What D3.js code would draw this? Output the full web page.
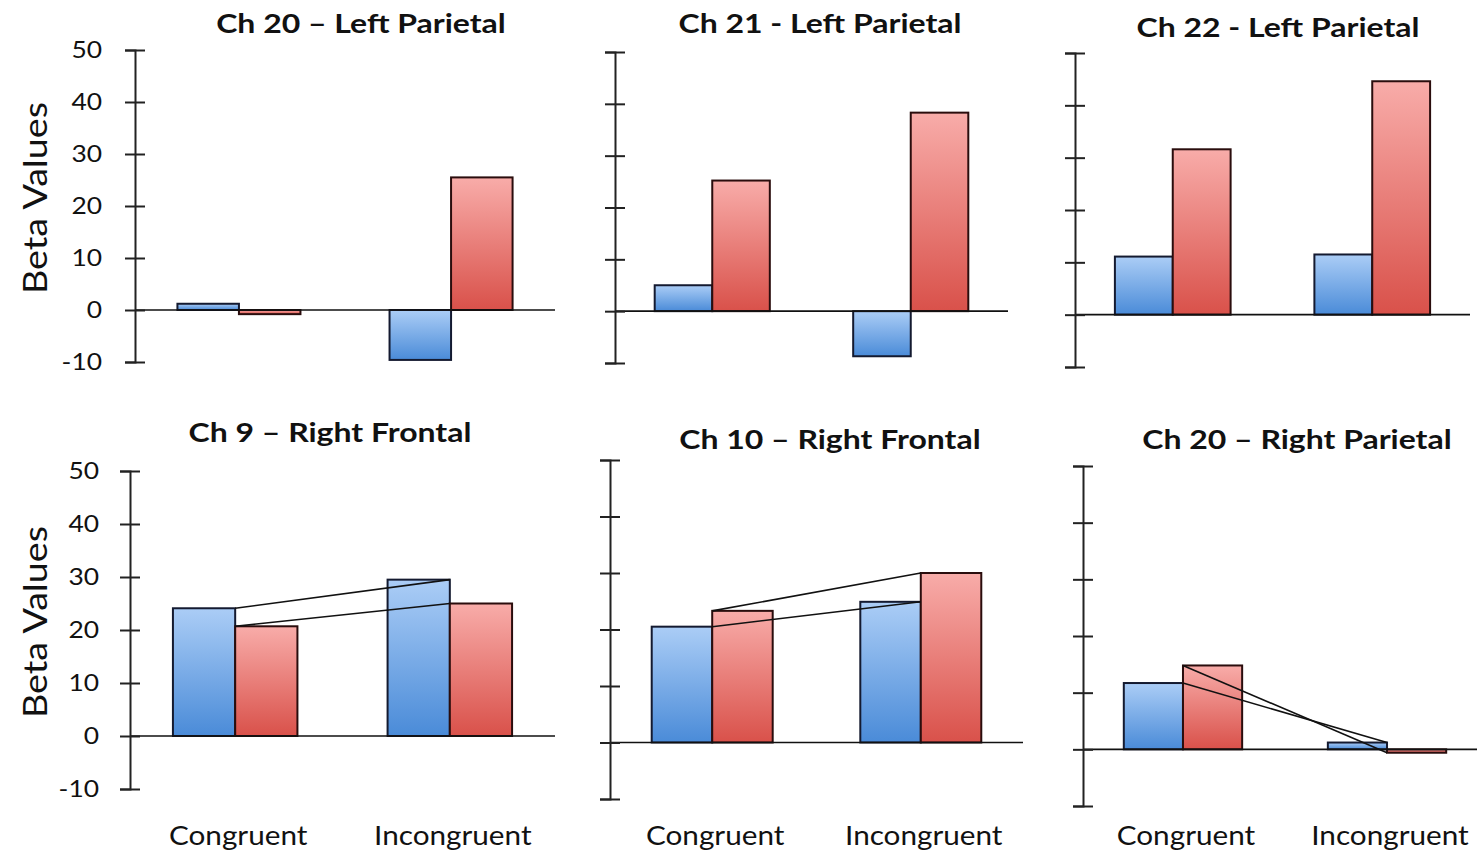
<!DOCTYPE html>
<html>
<head>
<meta charset="utf-8">
<script src="https://cdn.jsdelivr.net/npm/d3@7"></script>
<style>
  html, body { margin: 0; padding: 0; background: #fff; }
  svg { display: block; }
  text { font-family: Lato, "Open Sans", sans-serif; fill: #111; }
</style>
</head>
<body>
<svg id="chart" width="1477" height="853"></svg>
<script>
// ---- data ----
const categories = ["Congruent", "Incongruent"];
const seriesNames = ["blue", "red"];
const panelTitles = [
  "Ch 20 \u2013 Left Parietal",
  "Ch 21 - Left Parietal",
  "Ch 22 - Left Parietal",
  "Ch 9 \u2013 Right Frontal",
  "Ch 10 \u2013 Right Frontal",
  "Ch 20 \u2013 Right Parietal"
];
const blueValues = [
  [1.2, -9.6],
  [5.0, -8.7],
  [11.1, 11.5],
  [24.1, 29.5],
  [20.5, 24.9],
  [11.7, 1.2]
];
const redValues = [
  [-0.8, 25.5],
  [25.2, 38.3],
  [31.6, 44.6],
  [20.7, 25.0],
  [23.3, 30.0],
  [14.8, -0.6]
];
const yTicks = [-10, 0, 10, 20, 30, 40, 50];
const yDomain = [-10, 50];
const yAxisTitle = "Beta Values";
const connectLines = [false, false, false, true, true, true];

// ---- layout (positions only) ----
const layout = [
  { ax: 135, end: 555, top: 50, bottom: 362, tx: 361, ty: 33, pad: 23, labels: true, xlabels: false },
  { ax: 615, end: 1008, top: 52, bottom: 363, tx: 820, ty: 33, pad: 20, labels: false, xlabels: false },
  { ax: 1075, end: 1470, top: 53, bottom: 367, tx: 1278, ty: 37, pad: 20, labels: false, xlabels: false },
  { ax: 130, end: 555, top: 471, bottom: 789, tx: 330, ty: 442, pad: 21, labels: true, xlabels: true },
  { ax: 610, end: 1023, top: 460, bottom: 799, tx: 830, ty: 449, pad: 20, labels: false, xlabels: true },
  { ax: 1083, end: 1487, top: 466, bottom: 806, tx: 1297, ty: 449, pad: 20, labels: false, xlabels: true }
];

const svg = d3.select("#chart");
const defs = svg.append("defs");
function grad(id, top, bottom) {
  const g = defs.append("linearGradient").attr("id", id)
    .attr("x1", 0).attr("y1", 0).attr("x2", 0).attr("y2", 1);
  g.append("stop").attr("offset", "0%").attr("stop-color", top);
  g.append("stop").attr("offset", "100%").attr("stop-color", bottom);
}
grad("gBlue", "#abcdf6", "#4a8bd8");
grad("gRed", "#f8aca9", "#d9514a");
const fills = { blue: "url(#gBlue)", red: "url(#gRed)" };
const strokes = { blue: "#141a30", red: "#2a0d0d" };

// horizontal stretch of a text about its anchor x
function stretch(sel, k) {
  sel.each(function () {
    const t = d3.select(this);
    const x = +t.attr("x") || 0;
    const prev = t.attr("transform") || "";
    t.attr("transform", `${prev} translate(${x},0) scale(${k},1) translate(${-x},0)`);
  });
}

layout.forEach((L, i) => {
  const g = svg.append("g");
  const y = d3.scaleLinear().domain(yDomain).range([L.bottom, L.top]);
  const x0 = d3.scaleBand().domain(categories).range([L.ax, L.end])
    .paddingInner(0.42).paddingOuter(0.2);
  const x1 = d3.scaleBand().domain(seriesNames).range([0, x0.bandwidth()]);

  const rows = categories.map((c, j) => ({
    cat: c,
    vals: [{ s: "blue", v: blueValues[i][j] }, { s: "red", v: redValues[i][j] }]
  }));

  // bars
  const grp = g.selectAll("g.grp").data(rows).join("g").attr("class", "grp")
    .attr("transform", d => `translate(${x0(d.cat)},0)`);
  grp.selectAll("rect").data(d => d.vals).join("rect")
    .attr("x", d => x1(d.s))
    .attr("y", d => y(Math.max(0, d.v)))
    .attr("width", x1.bandwidth())
    .attr("height", d => Math.abs(y(d.v) - y(0)))
    .attr("fill", d => fills[d.s])
    .attr("stroke", d => strokes[d.s])
    .attr("stroke-width", 2);

  // zero line
  g.append("line")
    .attr("x1", L.ax).attr("x2", L.end)
    .attr("y1", y(0)).attr("y2", y(0))
    .attr("stroke", "#111").attr("stroke-width", 1.6);

  // connecting lines
  if (connectLines[i]) {
    const line = d3.line().x(d => d[0]).y(d => d[1]);
    [blueValues[i], redValues[i]].forEach(vals => {
      const pts = categories.map((c, j) => [x0(c) + x0.bandwidth() / 2, y(vals[j])]);
      g.append("path").attr("d", line(pts))
        .attr("fill", "none").attr("stroke", "#111").attr("stroke-width", 1.6);
    });
  }

  // y axis
  const axis = d3.axisLeft(y).tickValues(yTicks).tickSizeOuter(0).tickSize(10).tickPadding(L.pad)
    .tickFormat(L.labels ? (d => String(d)) : () => "");
  const ag = g.append("g").attr("transform", `translate(${L.ax},0)`).call(axis);
  ag.select(".domain").attr("stroke", "#222").attr("stroke-width", 2);
  ag.selectAll(".tick line").attr("x1", 10).attr("x2", -10).attr("stroke", "#222").attr("stroke-width", 2);
  const tt = ag.selectAll(".tick text").attr("font-size", 24).attr("font-family", "Lato, sans-serif")
    .attr("fill", "#111");
  stretch(tt, 1.1);

  // title
  const title = g.append("text").attr("x", L.tx).attr("y", L.ty).attr("text-anchor", "middle")
    .attr("font-size", 26).attr("font-weight", 700).text(panelTitles[i]);
  stretch(title, 1.23);

  // y axis title
  if (L.labels) {
    const cy = (L.top + L.bottom) / 2 - 8;
    g.append("text").attr("transform", `translate(47,${cy}) rotate(-90)`)
      .attr("text-anchor", "middle").attr("font-size", 32)
      .attr("textLength", 192).attr("lengthAdjust", "spacingAndGlyphs")
      .text(yAxisTitle);
  }

  // x labels
  if (L.xlabels) {
    const xl = g.selectAll("text.xl").data(categories).join("text").attr("class", "xl")
      .attr("x", c => x0(c) + x0.bandwidth() / 2 + 3)
      .attr("y", 845).attr("text-anchor", "middle").attr("font-size", 27)
      .text(c => c);
    stretch(xl, 1.1);
  }
});
</script>
</body>
</html>
